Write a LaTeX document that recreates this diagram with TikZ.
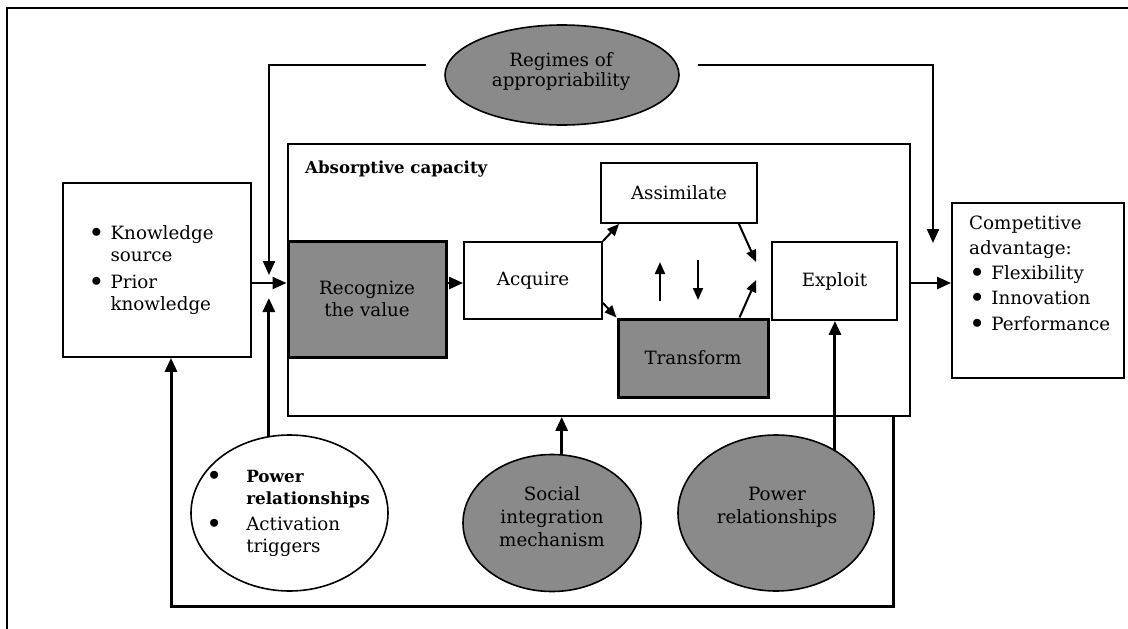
\documentclass[tikz,border=0pt]{standalone}
\usepackage{graphicx}
\usepackage{fontspec}
\setmainfont{DejaVu Serif}
\usetikzlibrary{arrows.meta,shapes.geometric,calc}

\definecolor{shade}{RGB}{138,138,138}
% round list marker, a little larger than the plain bullet
\newcommand{\blt}{\raisebox{-3pt}{\scalebox{1.5}{\textbullet}}}
% bold text, set a touch smaller to keep the wide bold face compact
\newcommand{\boldword}[1]{{\fontsize{16.8}{22}\selectfont\bfseries #1}}

\tikzset{
  box/.style={draw, rectangle, line width=1.8pt, fill=white, inner sep=0pt, align=center},
  darkbox/.style={box, fill=shade, line width=3pt},
  oval/.style={draw, ellipse, line width=1.6pt, inner sep=0pt},
  label text/.style={inner sep=0pt, align=center},
  arr/.style={line width=2.2pt, -{Triangle[length=14pt,width=12pt]}},
  arrsmall/.style={line width=2pt, -{Triangle[length=12pt,width=10pt]}},
  heavy/.style={line width=3pt, -{Triangle[length=14pt,width=12pt]}},
}

\begin{document}
\begin{tikzpicture}[x=1pt, y=-1pt, font=\fontsize{18.3}{22}\selectfont]
\useasboundingbox (0,0) rectangle (1128,629);
\fill[white] (0,0) rectangle (1128,629);

% page frame
\draw[line width=2.5pt] (7,629) -- (7,8) -- (1128,8);

% absorptive capacity frame and its stages
\node[box, minimum width=622pt, minimum height=272pt] (abs) at (599,280) {};
\node[anchor=base west, inner sep=0pt, font=\fontsize{16.6}{20}\selectfont\bfseries] (absTitle) at (305,173) {Absorptive capacity};

\node[darkbox, minimum width=158pt, minimum height=116pt] (recog) at (367,299) {Recognize\\the value};
\node[box, minimum width=138pt, minimum height=77pt] (acq) at (533,280.5) {Acquire};
\node[box, minimum width=156pt, minimum height=60pt] (assim) at (679,193) {Assimilate};
\node[darkbox, minimum width=150pt, minimum height=78pt] (trans) at (693,358) {Transform};
\node[box, minimum width=125pt, minimum height=78pt] (expl) at (834.5,281) {Exploit};

% inputs and outcome
\node[box, minimum width=188pt, minimum height=174pt] (know) at (157,270) {};
\node[inner sep=0pt] (knowTxt) at (151,271)
  {\begin{tabular}{@{}l@{\hspace{6pt}}l@{}}
   \blt & Knowledge\\
        & source\\[5pt]
   \blt & Prior\\
        & knowledge
   \end{tabular}};

\node[box, minimum width=172pt, minimum height=175pt] (comp) at (1038,290.5) {};
\node[anchor=north west, inner sep=0pt] (compTxt) at (969,212)
  {\renewcommand{\arraystretch}{1.14}%
   \begin{tabular}{@{}l@{\hspace{6pt}}l@{}}
   \multicolumn{2}{@{}l@{}}{Competitive}\\
   \multicolumn{2}{@{}l@{}}{advantage:}\\
   \blt & Flexibility\\
   \blt & Innovation\\
   \blt & Performance
   \end{tabular}};

% moderators
\node[oval, fill=shade, minimum width=234pt, minimum height=100pt] (reg) at (562,75) {};
\node[label text, font=\fontsize{18.3}{20}\selectfont] (regTxt) at (561,72) {Regimes of\\appropriability};

\node[oval, fill=white, minimum width=197pt, minimum height=156pt] (wl) at (289.5,513) {};
\node[inner sep=0pt] (wlTxt) at (288,513)
  {\begin{tabular}{@{}l@{\hspace{24pt}}l@{}}
   \blt & \boldword{Power}\\
        & \boldword{relationships}\\[4pt]
   \blt & Activation\\
        & triggers
   \end{tabular}};

\node[oval, fill=shade, minimum width=178pt, minimum height=137pt] (soc) at (552,523) {};
\node[label text, font=\fontsize{18.3}{23}\selectfont] (socTxt) at (552,517) {Social\\integration\\mechanism};

\node[oval, fill=shade, minimum width=196pt, minimum height=156pt] (pw) at (776,513) {};
\node[label text, font=\fontsize{18.3}{23}\selectfont] (pwTxt) at (777,507) {Power\\relationships};

% free ends of connectors
\coordinate (ybar) at (0,283);
\coordinate (topL) at (426,65);
\coordinate (topR) at (698,65);
\coordinate (inTop) at (269,275);
\coordinate (inBot) at (269,298);
\coordinate (outTop) at (933,243);
\coordinate (fbR) at (893,606);
\coordinate (fbL) at (171,606);
\coordinate (upS) at (660,301);
\coordinate (upE) at (660,262);
\coordinate (dnS) at (698,260);
\coordinate (dnE) at (698,300);

% main flow
\draw[arr] (know.east |- ybar) -- (recog.west |- ybar);
\draw[arr] (recog.east |- ybar) -- (acq.west |- ybar);
\draw[arr] (abs.east |- ybar) -- (comp.west |- ybar);

\draw[arrsmall] (acq.north east) -- ($(assim.south west)+(19,0)$);
\draw[arrsmall] ($(acq.south east)+(0,-17)$) -- (trans.north west);
\draw[arrsmall] ($(assim.south east)+(-19,0)$) -- ($(expl.west)+(-15,-19)$);
\draw[arrsmall] ($(trans.north east)+(-30,0)$) -- ($(expl.west)+(-15,-1)$);
\draw[arrsmall] (upS) -- (upE);
\draw[arrsmall] (dnS) -- (dnE);

% regimes of appropriability
\draw[arr] (topL) -| (inTop);
\draw[arr] (topR) -| (outTop);

% moderators acting on the process
\draw[heavy] (wl.105) -- (wl.105 |- inBot);
\draw[heavy] (soc.82) -- (soc.82 |- abs.south);
\draw[heavy] (pw.47) -- (pw.47 |- expl.south);

% feedback loop
\draw[heavy] (abs.south -| fbR) -- (fbR) -- (fbL) -- (know.south -| fbL);
\end{tikzpicture}
\end{document}
